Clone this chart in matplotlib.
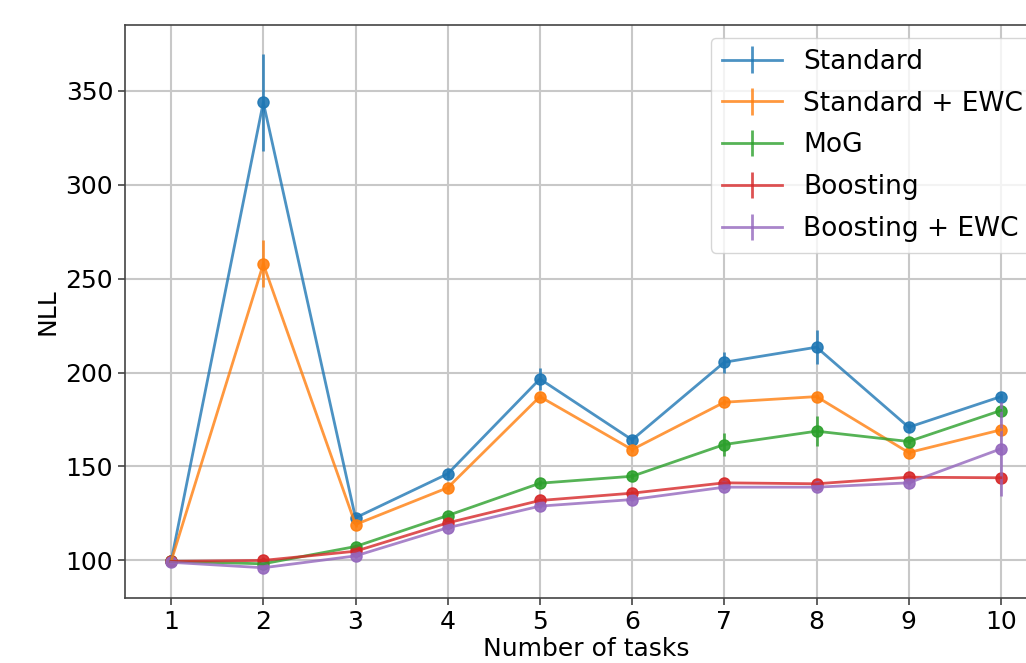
import matplotlib
matplotlib.use('Agg')
import matplotlib.pyplot as plt
import numpy as np

# NLL after each task, mean and std over runs
tasks = np.arange(1, 11)

standard = [99.5, 343.8, 122.7, 146.1, 196.6, 164.2, 205.5, 213.5, 170.9, 187.2]
standard_err = [1.0, 26.0, 2.0, 2.0, 6.0, 2.0, 5.5, 9.0, 2.5, 2.0]

standard_ewc = [99.5, 257.8, 119.1, 138.7, 187.2, 159.0, 184.2, 187.2, 157.4, 169.5]
standard_ewc_err = [1.0, 12.5, 1.5, 1.5, 1.5, 1.5, 1.5, 1.5, 1.5, 1.5]

mog = [99.5, 98.2, 107.4, 123.9, 141.1, 144.8, 161.7, 168.8, 163.3, 179.8]
mog_err = [1.0, 1.0, 1.0, 1.5, 1.5, 1.5, 6.0, 8.0, 1.5, 2.0]

boosting = [99.5, 100.0, 104.9, 120.0, 131.9, 135.8, 141.3, 140.8, 144.3, 144.0]
boosting_err = [1.0, 2.0, 1.0, 1.0, 1.0, 1.0, 1.0, 1.0, 1.0, 2.0]

boosting_ewc = [99.0, 96.1, 102.4, 117.4, 128.9, 132.4, 139.0, 139.0, 141.3, 159.4]
boosting_ewc_err = [1.0, 1.0, 1.0, 1.0, 1.0, 1.0, 1.0, 1.0, 1.0, 25.0]

series = [
    ('Standard', standard, standard_err, 'tab:blue'),
    ('Standard + EWC', standard_ewc, standard_ewc_err, 'tab:orange'),
    ('MoG', mog, mog_err, 'tab:green'),
    ('Boosting', boosting, boosting_err, 'tab:red'),
    ('Boosting + EWC', boosting_ewc, boosting_ewc_err, 'tab:purple'),
]

fig = plt.figure(figsize=(10.26, 6.63), dpi=100)
# axes run a bit past the right edge of the figure
ax = fig.add_axes([125 / 1026, 65 / 663, 922 / 1026, 573 / 663])

for name, vals, err, c in series:
    ax.errorbar(tasks, vals, yerr=err, color=c, lw=2, elinewidth=2, alpha=0.8, label=name)
    ax.plot(tasks, vals, 'o', color=c, ms=8, alpha=0.9)

ax.set_xlim(0.5, 10.5)
ax.set_ylim(80, 385)
ax.set_xticks(tasks)
ax.set_yticks([100, 150, 200, 250, 300, 350])
ax.grid(True, color='#c8c8c8', lw=1.5)
ax.set_axisbelow(True)
ax.tick_params(labelsize=18, length=5, width=1.2, color='#444444')
for s in ax.spines.values():
    s.set_color('#444444')
    s.set_linewidth(1.2)

ax.set_xlabel('Number of tasks', fontsize=18, labelpad=2)
ax.set_ylabel('NLL', fontsize=18)
ax.legend(loc='upper right', fontsize=19, handlelength=2.3, borderaxespad=0.5,
          labelspacing=0.6)

plt.savefig('out.png', dpi=100)
